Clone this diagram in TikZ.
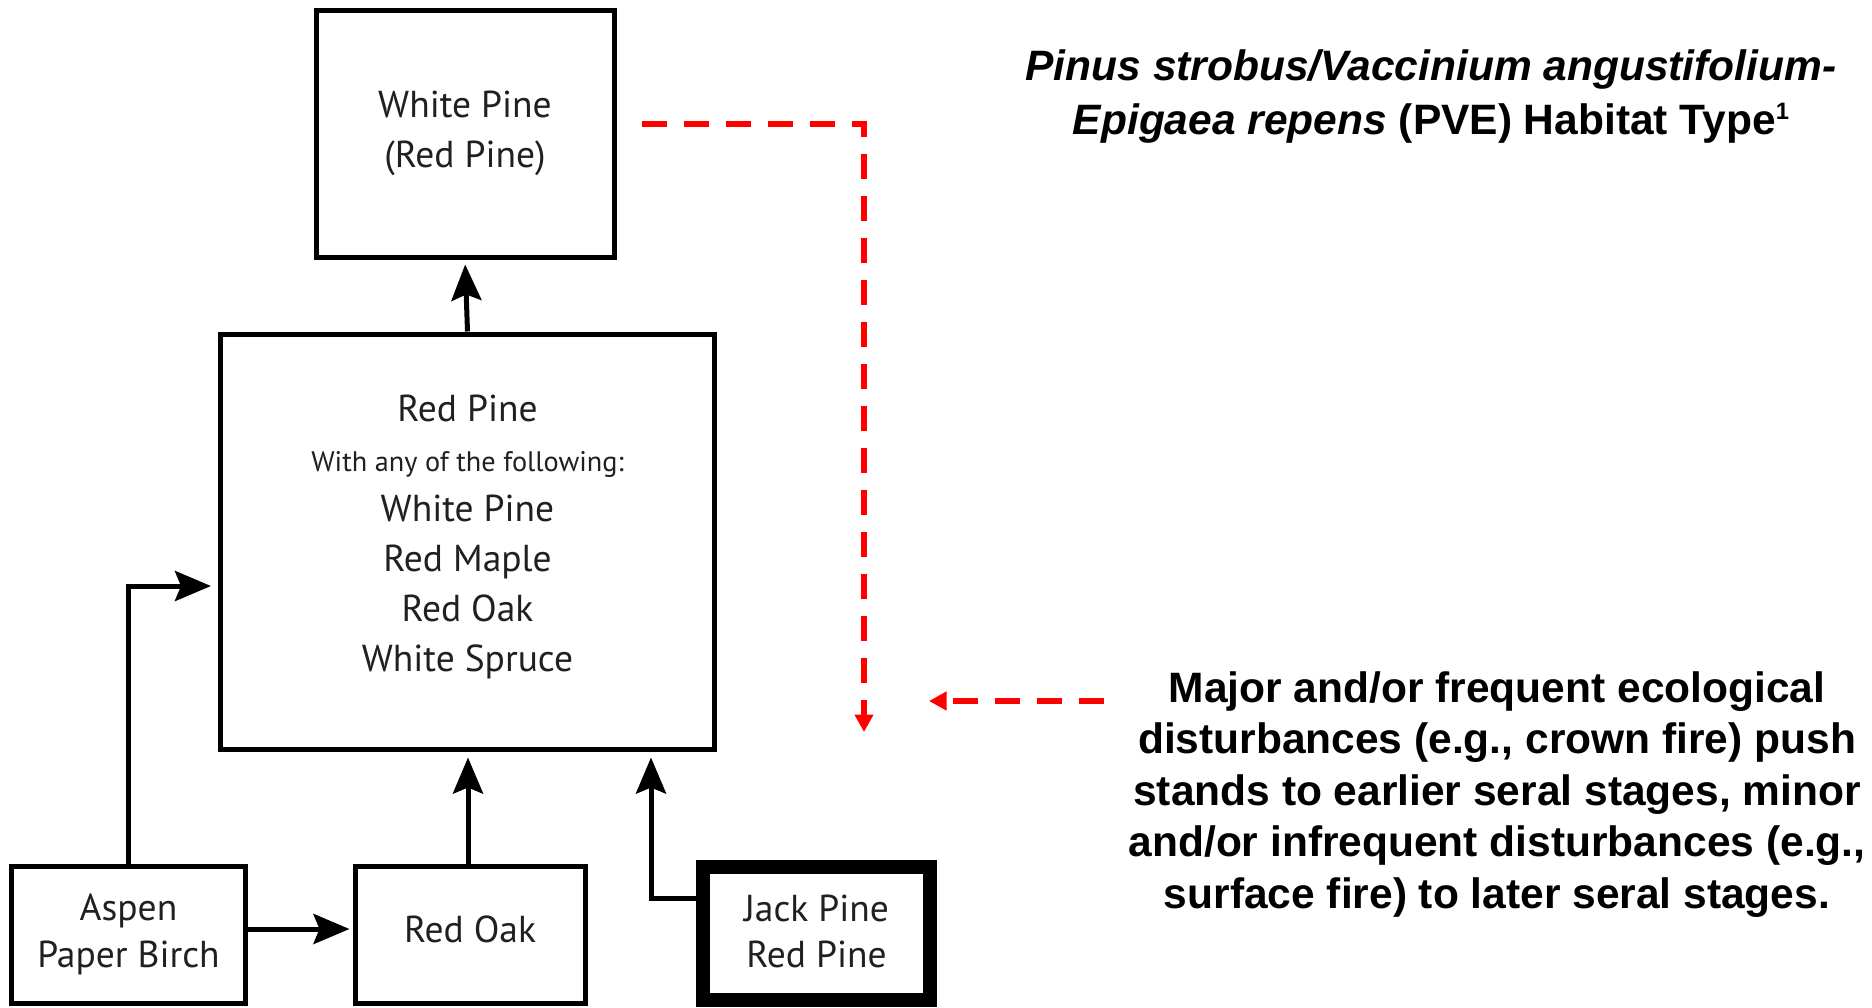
\documentclass[tikz,border=0pt]{standalone}
\usepackage{fontspec}
\setmainfont{Liberation Sans}
\newfontfamily\boxfont{PT Sans}
\usetikzlibrary{arrows.meta,calc}
\definecolor{inkgray}{HTML}{231F20}
\begin{document}
\begin{tikzpicture}[x=0.4pt,y=-0.4pt,
  box/.style={draw=black, line width=2pt, rectangle, inner sep=0pt, align=center,
    font=\boxfont\fontsize{15}{18.5}\selectfont, text=inkgray},
  boxtext/.style={inner sep=0pt, align=center, font=\boxfont\fontsize{15}{20}\selectfont, text=inkgray},
  flow/.style={draw=black, line width=2pt, -{Stealth[length=14.4pt,width=12pt,inset=2.4pt]}},
  disturb/.style={draw=red, line width=2.4pt, dash pattern=on 10pt off 6.8pt,
    -{Triangle[length=7pt,width=7.2pt]}},
  note/.style={font=\bfseries\fontsize{17}{20.6}\selectfont, align=center, inner sep=0pt}
]
\useasboundingbox (0,0) rectangle (1872,1007);
\fill[white] (0,0) rectangle (1872,1007);

% boxes
\node[box, font=\boxfont\fontsize{15}{20}\selectfont, minimum width=119.2pt, minimum height=98.8pt] (wp) at (465,133.5) {White Pine\\(Red Pine)};
\node[box, minimum width=197.2pt, minimum height=166pt] (rp) at (467.5,541.5) {};
\node[boxtext] (rptxt) at (467.5,537) {Red Pine\\{\fontsize{11.3}{20}\selectfont With any of the following:}\\White Pine\\Red Maple\\Red Oak\\White Spruce};
\node[box, minimum width=93.2pt, minimum height=54.8pt] (asp) at (128.5,934.5) {Aspen\\Paper Birch};
\node[box, minimum width=92pt, minimum height=54.8pt] (ro) at (470,934.5) {};
\node[boxtext] (rotxt) at ($(ro.center)+(0,-5)$) {Red Oak};
\node[box, line width=5.6pt, minimum width=90.8pt, minimum height=53.2pt] (jp) at (816.5,933.5) {};
\node[box, draw=none] (jptxt) at ($(jp.center)+(0,-2)$) {Jack Pine\\Red Pine};

% successional arrows
\draw[flow, shorten >=2pt] (rp.north) -- (wp.south);
\draw[flow, shorten >=3pt] (asp.north) |- ($(rp.west)+(0,44.5)$);
\draw[flow, shorten >=2.4pt] ($(ro.north)+(-2,0)$) -- ($(ro.north |- rp.south)+(-2,0)$);
\draw[flow, shorten >=2.4pt] ($(jp.west)+(0,-35.5)$) -| ($(rp.south)+(183.5,0)$);
\draw[flow, shorten >=1.2pt] ($(asp.east)+(0,-5.5)$) -- ($(ro.west)+(0,-5.5)$);

% disturbance arrows
\coordinate (d1s) at (642,124);
\coordinate (d1e) at (864,732);
\draw[disturb] (d1s) -| (d1e);
\coordinate (d2s) at (1104,701);
\coordinate (d2e) at (929,701);
\draw[disturb] (d2s) -- (d2e);

% texts
\node[note, font=\bfseries\fontsize{17}{21.4}\selectfont] (title) at (1431,96.5)
  {\textit{Pinus strobus/Vaccinium angustifolium-}\\\textit{Epigaea repens} (PVE) Habitat Type\raisebox{5.8pt}{\fontsize{9.5}{10}\selectfont 1}};
\node[note] (dist) at (1497,794.5)
  {Major and/or frequent ecological\\disturbances (e.g., crown fire) push\\stands to earlier seral stages, minor\\and/or infrequent disturbances (e.g.,\\surface fire) to later seral stages.};
\end{tikzpicture}
\end{document}
